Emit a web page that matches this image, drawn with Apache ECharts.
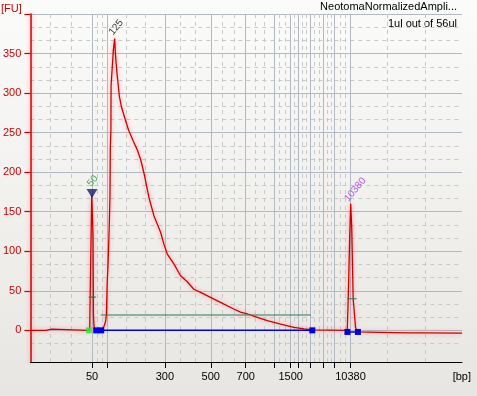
<!DOCTYPE html>
<html>
<head>
<meta charset="utf-8">
<script src="https://cdn.jsdelivr.net/npm/echarts@6/dist/echarts.min.js"></script>
<style>
html,body{margin:0;padding:0;background:#eeede9;}
#c{width:477px;height:396px;}
</style>
</head>
<body>
<div id="c"></div>
<script>
// Ladder: fragment sizes (bp) and their migration times (s)
const ladderBp   = [50, 100, 300, 500, 700, 1000, 1500, 2000, 3000, 5000, 7000, 10380];
const ladderTime = [32.36, 35.36, 46.96, 56.16, 63.16, 68.84, 72.16, 73.64, 76.04, 78.76, 80.96, 84.16];
const labeledBp  = [50, 300, 500, 700, 1500, 10380];
const minorTime  = [24.04, 28.16, 33.36, 34.36, 39.16, 42.96, 50.04, 53.04, 58.5, 60.84, 65.06, 66.94,
                    69.94, 71.06, 72.9, 74.44, 75.24, 76.94, 77.86, 79.5, 80.24, 82.02, 83.1, 91.6, 99.1];
const yMajor  = [0, 50, 100, 150, 200, 250, 300, 350, 400];
const yLabels = [0, 50, 100, 150, 200, 250, 300, 350];
const yMinor  = [-16.7, 16.7, 33.3, 66.7, 83.3, 116.7, 133.3, 166.7, 183.3, 216.7, 233.3, 266.7, 283.3,
                 316.7, 333.3, 366.7, 383.3];

// Electropherogram trace: time (s) and fluorescence (FU)
const traceTime = [20.0, 23.1, 23.2, 24.3, 24.4, 31.7, 31.8, 31.9, 32.0, 32.3, 32.4, 32.56, 32.64, 32.76, 32.9,
  34.3, 34.76, 35.1, 35.24, 35.4, 35.56, 35.8, 35.96, 36.02, 36.14, 36.18, 36.36, 36.64, 36.9, 37.04, 37.36,
  37.84, 38.24, 39.04, 39.7, 40.64, 41.44, 42.1, 42.76, 43.76, 44.76, 46.1, 46.76, 47.44, 48.76, 50.1, 51.44,
  52.76, 54.1, 56.1, 58.1, 60.76, 62.1, 63.5, 65.5, 67.5, 70.16, 72.84, 74.84, 76.5, 80.1, 83.5, 83.7, 84.0,
  84.2, 84.4, 84.7, 85.16, 85.5, 90.1, 96.1, 96.5, 97.0, 99.1, 106.5];
const traceFU = [0, 0, 1.5, 1.5, 0, 0, 0, 3, 49, 171, 172, 120, 20, 5, 0,
  0, 5, 12, 20, 60, 82, 130, 170, 230, 253, 310, 312, 355, 369, 350, 325,
  296, 283, 266, 253, 239, 228, 216, 199, 168, 145, 124, 109, 96.5, 84, 69, 61.5,
  52, 48, 41.7, 35.4, 27, 23, 20.7, 16.4, 12.3, 8, 3.8, 1.8, 0.5, 0.3, 0, 40, 120,
  160, 130, 39, 4, -2, -2.5, -3.3, -1.8, -3.3, -3.3, -3.5];

// Integration baselines (blue) and marker points
const base1Time = [33.2, 34.2, 76.5];
const base1FU   = [0, 0, 0];
const base2Time = [83.54, 85.64];
const base2FU   = [-2, -2];
const startTime = [31.76];
const startFU   = [0];
// Peak width (half-height) bars and region bar (green)
const bar1Time = [31.7, 33.1];   const bar1FU = [42, 42];
const bar2Time = [34.1, 76.24];  const bar2FU = [19.4, 19.4];
const bar3Time = [83.5, 85.36];  const bar3FU = [40, 40];
// Peak labels
const peakNames = ['50', '125', '10380'];
const peakTime  = [32.5, 37.2, 85.1];
const peakFU    = [189, 383, 178];
const peakColor = ['#1f9a1f', '#000000', '#9a33d6'];
const trianglePt = [32.36, 173];

const zip = (a, b) => a.map((v, i) => [v, b[i]]);
const bpOf = t => {
  let best = 0;
  ladderTime.forEach((lt, i) => { if (Math.abs(lt - t) < Math.abs(ladderTime[best] - t)) best = i; });
  return ladderBp[best];
};
const labelTimes = labeledBp.map(b => ladderTime[ladderBp.indexOf(b)]);

const chart = echarts.init(document.getElementById('c'), null, {renderer: 'canvas'});
const FONT = 'Liberation Sans';
chart.setOption({
  animation: false,
  backgroundColor: {type: 'linear', x: 0, y: 0, x2: 0, y2: 1,
    colorStops: [{offset: 0, color: '#fbfbfa'}, {offset: 1, color: '#e7e6e2'}]},
  textStyle: {fontFamily: FONT},
  grid: {left: 29.5, right: 15, top: 14, bottom: 34, containLabel: false},
  xAxis: [
    {type: 'value', min: 20, max: 106.5, position: 'bottom',
     axisLine: {show: false}, axisLabel: {show: false},
     axisTick: {show: false, customValues: minorTime},
     splitLine: {show: true, lineStyle: {color: '#c9c9c9', type: [4, 4], width: 1}}},
    {type: 'value', min: 20, max: 106.5, position: 'bottom',
     axisLine: {show: true, onZero: false, lineStyle: {color: '#000', width: 1}},
     axisTick: {show: true, length: 6, inside: false, customValues: ladderTime, lineStyle: {color: '#000'}},
     axisLabel: {show: true, customValues: labelTimes, margin: 9, color: '#000', fontSize: 11, fontFamily: FONT,
       formatter: v => String(bpOf(v))},
     splitLine: {show: true, lineStyle: {color: '#b3b9c3', width: 1}}}
  ],
  yAxis: [
    {type: 'value', min: -40, max: 400, position: 'left',
     axisLine: {show: false}, axisLabel: {show: false},
     axisTick: {show: false, customValues: yMinor},
     splitLine: {show: true, lineStyle: {color: '#c9c9c9', type: [4, 4], width: 1}}},
    {type: 'value', min: -40, max: 400, position: 'left',
     axisLine: {show: true, onZero: false, lineStyle: {color: '#cc0000', width: 1.5,
       shadowColor: 'rgba(255,60,60,0.5)', shadowBlur: 4}},
     axisTick: {show: true, length: 6, customValues: yMajor, lineStyle: {color: '#cc0000', width: 1.2}},
     axisLabel: {show: true, customValues: yLabels, margin: 9, color: '#cc0000', fontSize: 11, fontFamily: FONT},
     splitLine: {show: true, lineStyle: {color: '#b3b9c3', width: 1}}}
  ],
  graphic: [
    {type: 'text', right: 20, top: 1, style: {text: 'NeotomaNormalizedAmpli...', font: '11px ' + FONT, fill: '#000'}},
    {type: 'text', right: 20, top: 18, style: {text: '1ul out of 56ul', font: '11px ' + FONT, fill: '#000'}},
    {type: 'text', left: 1, top: 3, style: {text: '[FU]', font: '11px ' + FONT, fill: '#cc0000'}},
    {type: 'text', right: 6, top: 371, style: {text: '[bp]', font: '11px ' + FONT, fill: '#000'}}
  ],
  series: [
    {type: 'line', name: 'trace', xAxisIndex: 1, yAxisIndex: 1, data: zip(traceTime, traceFU),
     showSymbol: false, symbol: 'none', z: 5,
     lineStyle: {color: '#d00000', width: 1.3, shadowColor: 'rgba(255,70,70,0.55)', shadowBlur: 4}},
    {type: 'line', xAxisIndex: 1, yAxisIndex: 1, data: zip(bar1Time, bar1FU), symbol: 'none', z: 6,
     lineStyle: {color: '#2e7658', width: 1.2}},
    {type: 'line', xAxisIndex: 1, yAxisIndex: 1, data: zip(bar2Time, bar2FU), symbol: 'none', z: 6,
     lineStyle: {color: '#2e7658', width: 1.2}},
    {type: 'line', xAxisIndex: 1, yAxisIndex: 1, data: zip(bar3Time, bar3FU), symbol: 'none', z: 6,
     lineStyle: {color: '#2e7658', width: 1.2}},
    {type: 'line', xAxisIndex: 1, yAxisIndex: 1, data: zip(base1Time, base1FU), z: 7,
     symbol: 'rect', symbolSize: 6, showAllSymbol: true, itemStyle: {color: '#0000e6'},
     lineStyle: {color: '#0000e6', width: 1.5}},
    {type: 'line', xAxisIndex: 1, yAxisIndex: 1, data: zip(base2Time, base2FU), z: 7,
     symbol: 'rect', symbolSize: 6, showAllSymbol: true, itemStyle: {color: '#0000e6'},
     lineStyle: {color: '#0000e6', width: 1.5}},
    {type: 'scatter', xAxisIndex: 1, yAxisIndex: 1, data: zip(startTime, startFU), z: 8,
     symbol: 'rect', symbolSize: 6, itemStyle: {color: '#22ee22'}},
    {type: 'scatter', xAxisIndex: 1, yAxisIndex: 1, data: [trianglePt], z: 8,
     symbol: 'triangle', symbolRotate: 180, symbolSize: [11, 9], itemStyle: {color: '#1b1b6b'}},
    {type: 'scatter', xAxisIndex: 1, yAxisIndex: 1, z: 9, symbolSize: 0,
     data: peakNames.map((n, i) => ({value: [peakTime[i], peakFU[i]], name: n,
       label: {show: true, formatter: n, color: peakColor[i], rotate: 50, fontSize: 10, fontFamily: FONT,
               position: 'inside'}}))}
  ]
});
</script>
</body>
</html>
